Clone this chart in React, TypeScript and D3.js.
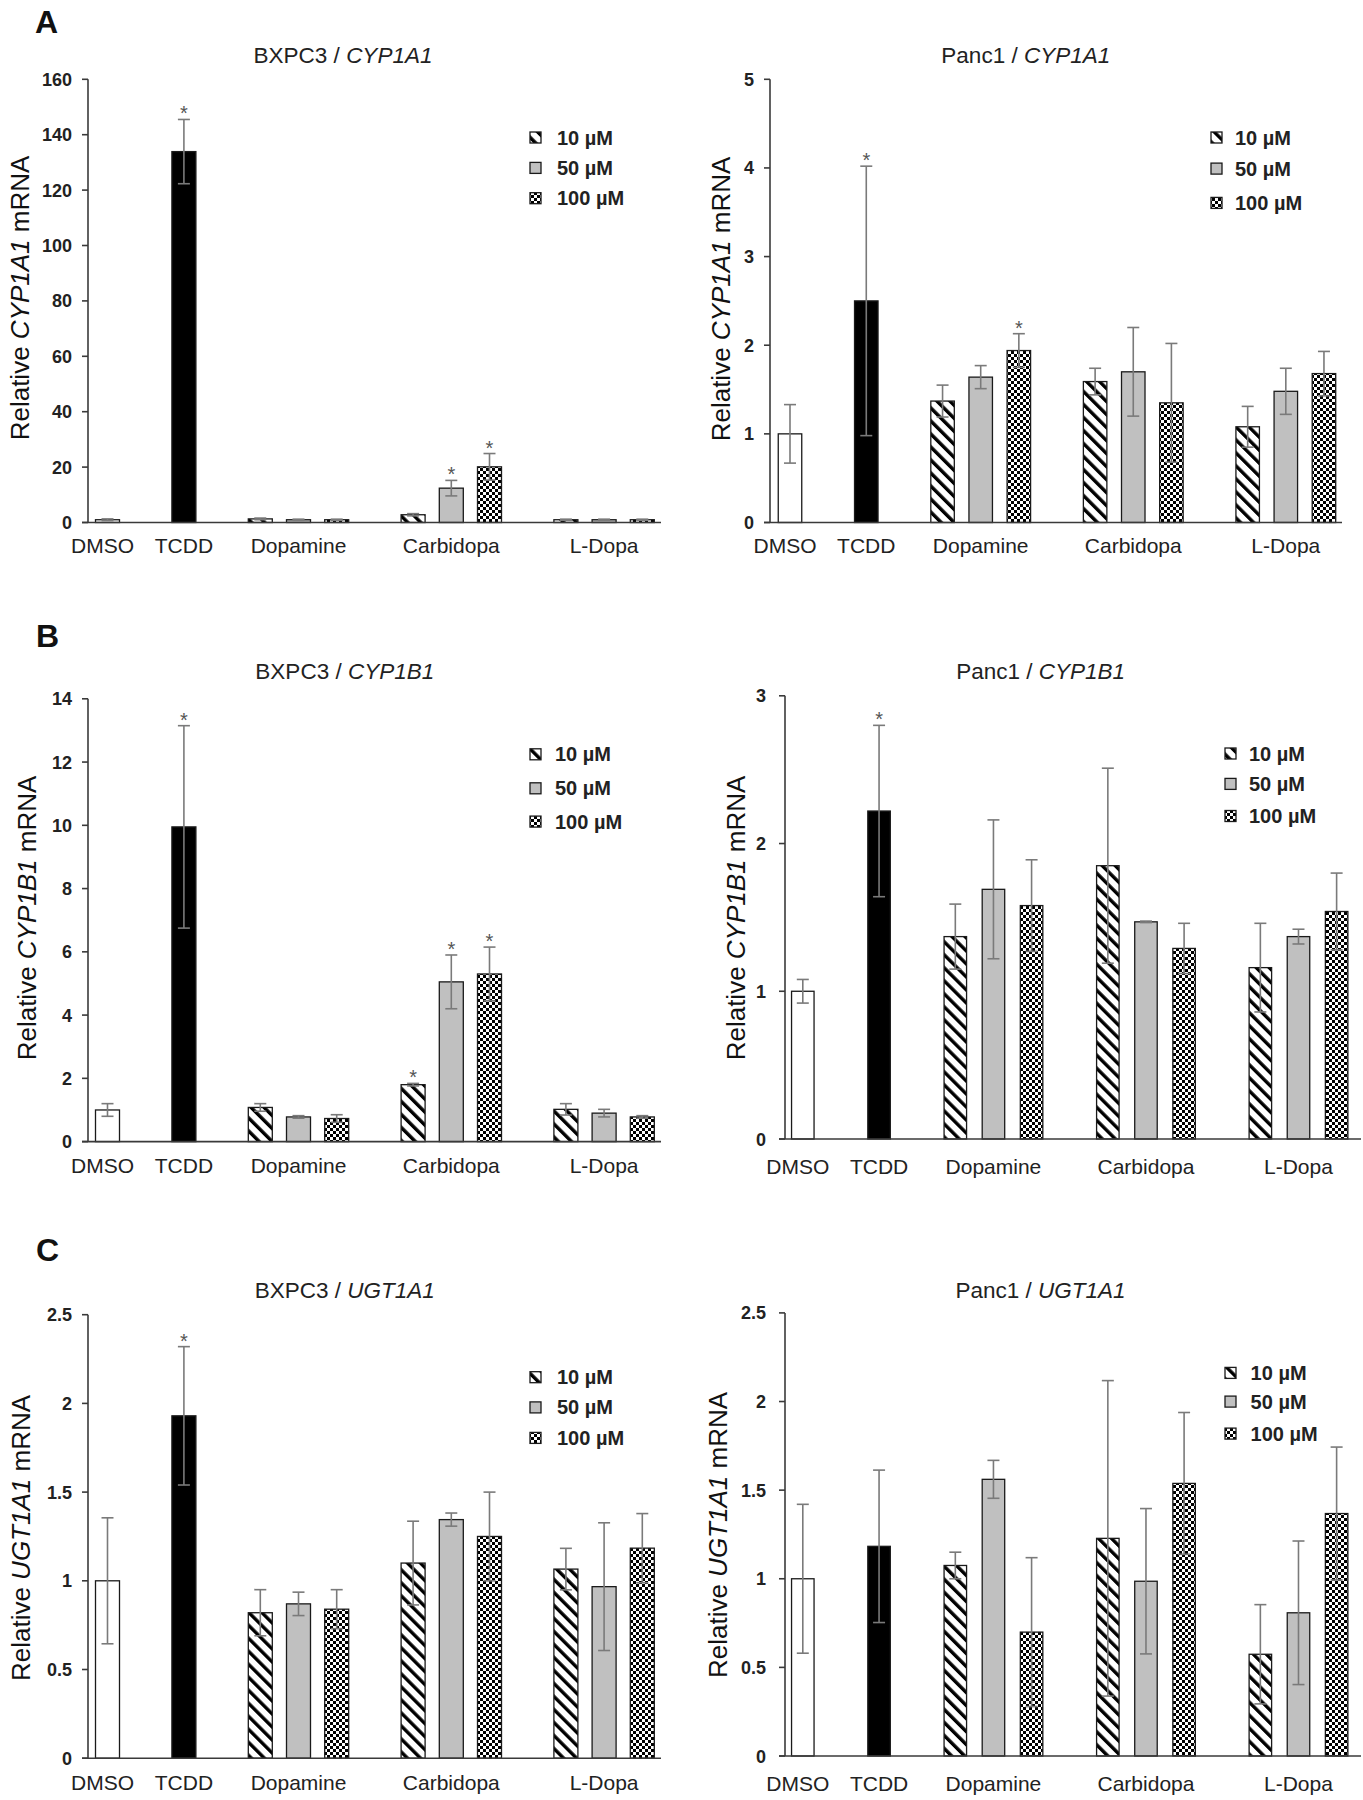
import React from "react";
import * as d3 from "d3";

// ---------- data ----------
const categories = ["DMSO", "TCDD", "Dopamine", "Carbidopa", "L-Dopa"];
const concentrations = ["10 µM", "50 µM", "100 µM"];
// slot order: DMSO, TCDD, Dopamine 10/50/100, Carbidopa 10/50/100, L-Dopa 10/50/100
const slotIndex = [0, 2, 4, 5, 6, 8, 9, 10, 12, 13, 14];
const slotFill = ["white", "black", "s10", "s50", "s100", "s10", "s50", "s100", "s10", "s50", "s100"];
const categorySlots = [0, 2, 5, 9, 13];

const bxpc3Cyp1a1Mean = [1.0, 133.9, 1.3, 1.0, 1.0, 2.8, 12.4, 20.1, 1.0, 1.0, 1.0];
const bxpc3Cyp1a1Err = [0.3, 11.6, 0.3, 0.2, 0.2, 0.4, 2.8, 4.8, 0.2, 0.2, 0.2];
const bxpc3Cyp1a1Stars = [1, 6, 7];
const bxpc3Cyp1a1Ticks = [0, 20, 40, 60, 80, 100, 120, 140, 160];

const panc1Cyp1a1Mean = [1.0, 2.5, 1.37, 1.64, 1.94, 1.59, 1.7, 1.35, 1.08, 1.48, 1.68];
const panc1Cyp1a1Err = [0.33, 1.52, 0.18, 0.13, 0.19, 0.15, 0.5, 0.67, 0.23, 0.26, 0.25];
const panc1Cyp1a1Stars = [1, 4];
const panc1Cyp1a1Ticks = [0, 1, 2, 3, 4, 5];

const bxpc3Cyp1b1Mean = [1.0, 9.95, 1.08, 0.78, 0.73, 1.8, 5.05, 5.3, 1.02, 0.9, 0.78];
const bxpc3Cyp1b1Err = [0.2, 3.2, 0.12, 0.04, 0.12, 0.04, 0.85, 0.85, 0.18, 0.12, 0.04];
const bxpc3Cyp1b1Stars = [1, 5, 6, 7];
const bxpc3Cyp1b1Ticks = [0, 2, 4, 6, 8, 10, 12, 14];

const panc1Cyp1b1Mean = [1.0, 2.22, 1.37, 1.69, 1.58, 1.85, 1.47, 1.29, 1.16, 1.37, 1.54];
const panc1Cyp1b1Err = [0.08, 0.58, 0.22, 0.47, 0.31, 0.66, 0.005, 0.17, 0.3, 0.05, 0.26];
const panc1Cyp1b1Stars = [1];
const panc1Cyp1b1Ticks = [0, 1, 2, 3];

const bxpc3Ugt1a1Mean = [1.0, 1.93, 0.82, 0.87, 0.84, 1.1, 1.345, 1.25, 1.066, 0.967, 1.184];
const bxpc3Ugt1a1Err = [0.355, 0.39, 0.13, 0.066, 0.11, 0.236, 0.037, 0.25, 0.117, 0.36, 0.195];
const bxpc3Ugt1a1Stars = [1];
const bxpc3Ugt1a1Ticks = [0, 0.5, 1, 1.5, 2, 2.5];

const panc1Ugt1a1Mean = [1.0, 1.183, 1.075, 1.561, 0.699, 1.228, 0.986, 1.538, 0.574, 0.808, 1.368];
const panc1Ugt1a1Err = [0.42, 0.43, 0.075, 0.107, 0.42, 0.89, 0.41, 0.4, 0.28, 0.405, 0.375];
const panc1Ugt1a1Stars: number[] = [];
const panc1Ugt1a1Ticks = [0, 0.5, 1, 1.5, 2, 2.5];

// ---------- layout ----------
const FONT = "'Liberation Sans', Arial, Helvetica, sans-serif";

const panels = [
  {
    cell: "BXPC3", gene: "CYP1A1", mean: bxpc3Cyp1a1Mean, err: bxpc3Cyp1a1Err, stars: bxpc3Cyp1a1Stars, ticks: bxpc3Cyp1a1Ticks,
    axisX: 88, x0: 107.5, pitch: 38.2, xEnd: 661, yZero: 522.5, yTop: 79.3, titleX: 343, titleY: 55.4,
    ylabX: 19.5, ylabY: 298, tickRight: 72, xlabY: 545.4, legX: 530, legTextX: 557, legY: [137.5, 167.9, 198.2], barW: 24,
  },
  {
    cell: "Panc1", gene: "CYP1A1", mean: panc1Cyp1a1Mean, err: panc1Cyp1a1Err, stars: panc1Cyp1a1Stars, ticks: panc1Cyp1a1Ticks,
    axisX: 770, x0: 790, pitch: 38.14, xEnd: 1342, yZero: 522.5, yTop: 79.3, titleX: 1025.8, titleY: 55.4,
    ylabX: 721.4, ylabY: 299, tickRight: 754, xlabY: 545.4, legX: 1211, legTextX: 1235, legY: [137.5, 168.6, 202.9], barW: 23.5,
  },
  {
    cell: "BXPC3", gene: "CYP1B1", mean: bxpc3Cyp1b1Mean, err: bxpc3Cyp1b1Err, stars: bxpc3Cyp1b1Stars, ticks: bxpc3Cyp1b1Ticks,
    axisX: 88, x0: 107.5, pitch: 38.2, xEnd: 661, yZero: 1141.6, yTop: 698.8, titleX: 344.8, titleY: 671,
    ylabX: 26.7, ylabY: 918, tickRight: 72, xlabY: 1165, legX: 530, legTextX: 555, legY: [754.3, 788.3, 821.6], barW: 24,
  },
  {
    cell: "Panc1", gene: "CYP1B1", mean: panc1Cyp1b1Mean, err: panc1Cyp1b1Err, stars: panc1Cyp1b1Stars, ticks: panc1Cyp1b1Ticks,
    axisX: 785, x0: 802.8, pitch: 38.13, xEnd: 1361, yZero: 1139, yTop: 695.8, titleX: 1040.6, titleY: 671,
    ylabX: 735.5, ylabY: 918, tickRight: 766, xlabY: 1166.8, legX: 1225, legTextX: 1249, legY: [753.5, 783.9, 816], barW: 22.5,
  },
  {
    cell: "BXPC3", gene: "UGT1A1", mean: bxpc3Ugt1a1Mean, err: bxpc3Ugt1a1Err, stars: bxpc3Ugt1a1Stars, ticks: bxpc3Ugt1a1Ticks,
    axisX: 88, x0: 107.5, pitch: 38.2, xEnd: 661, yZero: 1758.2, yTop: 1314.7, titleX: 344.8, titleY: 1290,
    ylabX: 21, ylabY: 1538, tickRight: 72, xlabY: 1782.5, legX: 530, legTextX: 557, legY: [1377.2, 1407.4, 1437.9], barW: 24,
  },
  {
    cell: "Panc1", gene: "UGT1A1", mean: panc1Ugt1a1Mean, err: panc1Ugt1a1Err, stars: panc1Ugt1a1Stars, ticks: panc1Ugt1a1Ticks,
    axisX: 785, x0: 802.8, pitch: 38.13, xEnd: 1361, yZero: 1756, yTop: 1312.9, titleX: 1040.6, titleY: 1290,
    ylabX: 718, ylabY: 1535, tickRight: 766, xlabY: 1783, legX: 1225, legTextX: 1250.6, legY: [1372.9, 1401.6, 1433.6], barW: 22.5,
  },
];

const panelLetters = [
  { t: "A", x: 35, y: 33 },
  { t: "B", x: 36, y: 647 },
  { t: "C", x: 36, y: 1261 },
];

const ERR_COLOR = "#7a7a7a";
const BAR_STROKE = "#1a1a1a";
const GRAY = "#c0c0c0";
const AXIS = "#3a3a3a";

function fillFor(k: string) {
  if (k === "white") return "#ffffff";
  if (k === "black") return "#000000";
  if (k === "s10") return "url(#stripes)";
  if (k === "s50") return GRAY;
  return "url(#checker)";
}

function Panel({ p }: { p: any }) {
  const x = d3.scaleLinear().domain([0, 14]).range([p.x0, p.x0 + 14 * p.pitch]);
  const yMax = p.ticks[p.ticks.length - 1];
  const y = d3.scaleLinear().domain([0, yMax]).range([p.yZero, p.yTop]);
  const cap = 6;
  return (
    <g>
      {/* title */}
      <text x={p.titleX} y={p.titleY + 8} textAnchor="middle" fontSize={22.5} fontFamily={FONT} fill="#222">
        <tspan>{p.cell} / </tspan>
        <tspan fontStyle="italic">{p.gene}</tspan>
      </text>
      {/* y label */}
      <text
        transform={`translate(${p.ylabX + 9},${p.ylabY}) rotate(-90)`}
        textAnchor="middle"
        fontSize={26}
        fontFamily={FONT}
        fill="#111"
      >
        <tspan>Relative </tspan>
        <tspan fontStyle="italic">{p.gene}</tspan>
        <tspan> mRNA</tspan>
      </text>
      {/* bars */}
      {p.mean.map((m: number, i: number) => {
        const cx = x(slotIndex[i]);
        return (
          <rect
            key={"b" + i}
            x={cx - p.barW / 2}
            y={y(m)}
            width={p.barW}
            height={p.yZero - y(m)}
            fill={fillFor(slotFill[i])}
            stroke={BAR_STROKE}
            strokeWidth={1.3}
          />
        );
      })}
      {/* error bars */}
      {p.mean.map((m: number, i: number) => {
        const cx = x(slotIndex[i]);
        const yt = y(m + p.err[i]);
        const yb = y(Math.max(0, m - p.err[i]));
        return (
          <g key={"e" + i} stroke={ERR_COLOR} strokeWidth={1.6}>
            <line x1={cx} x2={cx} y1={yt} y2={yb} />
            <line x1={cx - cap} x2={cx + cap} y1={yt} y2={yt} />
            <line x1={cx - cap} x2={cx + cap} y1={yb} y2={yb} />
          </g>
        );
      })}
      {/* stars */}
      {p.stars.map((i: number) => {
        const cx = x(slotIndex[i]);
        const yt = y(p.mean[i] + p.err[i]);
        return (
          <text key={"s" + i} x={cx} y={yt + 1} textAnchor="middle" fontSize={20} fontFamily={FONT} fill="#555">
            *
          </text>
        );
      })}
      {/* axes */}
      <line x1={p.axisX} x2={p.axisX} y1={p.yTop} y2={p.yZero} stroke={AXIS} strokeWidth={1.6} />
      <line x1={p.axisX - 6} x2={p.xEnd} y1={p.yZero} y2={p.yZero} stroke={AXIS} strokeWidth={1.6} />
      {p.ticks.map((t: number) => (
        <g key={"t" + t}>
          <line x1={p.axisX - 6} x2={p.axisX} y1={y(t)} y2={y(t)} stroke={AXIS} strokeWidth={1.6} />
          <text x={p.tickRight} y={y(t) + 6.5} textAnchor="end" fontSize={18} fontWeight="bold" fontFamily={FONT} fill="#222">
            {String(t)}
          </text>
        </g>
      ))}
      {/* x labels */}
      {categories.map((c, i) => (
        <text
          key={c}
          x={x(categorySlots[i]) + (i === 0 ? -5 : 0)}
          y={p.xlabY + 7.5}
          textAnchor="middle"
          fontSize={21}
          fontFamily={FONT}
          fill="#222"
        >
          {c}
        </text>
      ))}
      {/* legend */}
      {concentrations.map((c, i) => (
        <g key={c}>
          <rect
            x={p.legX}
            y={p.legY[i] - 5.5}
            width={11}
            height={11}
            fill={fillFor(["s10", "s50", "s100"][i])}
            stroke={BAR_STROKE}
            strokeWidth={1.3}
          />
          <text x={p.legTextX} y={p.legY[i] + 7} fontSize={20} fontWeight="bold" fontFamily={FONT} fill="#222">
            {c}
          </text>
        </g>
      ))}
    </g>
  );
}

export default function App() {
  return (
    <svg
      width={1363}
      height={1800}
      viewBox="0 0 1363 1800"
      style={{ position: "absolute", left: 0, top: 0, background: "#fff" }}
    >
      <defs>
        <pattern id="stripes" patternUnits="userSpaceOnUse" width={9.2} height={9.2} patternTransform="rotate(-45)">
          <rect width={9.2} height={9.2} fill="#fff" />
          <rect x={0} y={0} width={3.4} height={9.2} fill="#000" />
        </pattern>
        <pattern id="checker" patternUnits="userSpaceOnUse" width={6} height={6}>
          <rect width={6} height={6} fill="#fff" />
          <rect x={0} y={0} width={3} height={3} fill="#000" />
          <rect x={3} y={3} width={3} height={3} fill="#000" />
        </pattern>
      </defs>
      <rect width={1363} height={1800} fill="#fff" />
      {panels.map((p, i) => (
        <Panel key={i} p={p} />
      ))}
      {panelLetters.map((l) => (
        <text key={l.t} x={l.x} y={l.y} fontSize={32} fontWeight="bold" fontFamily={FONT} fill="#111">
          {l.t}
        </text>
      ))}
    </svg>
  );
}
